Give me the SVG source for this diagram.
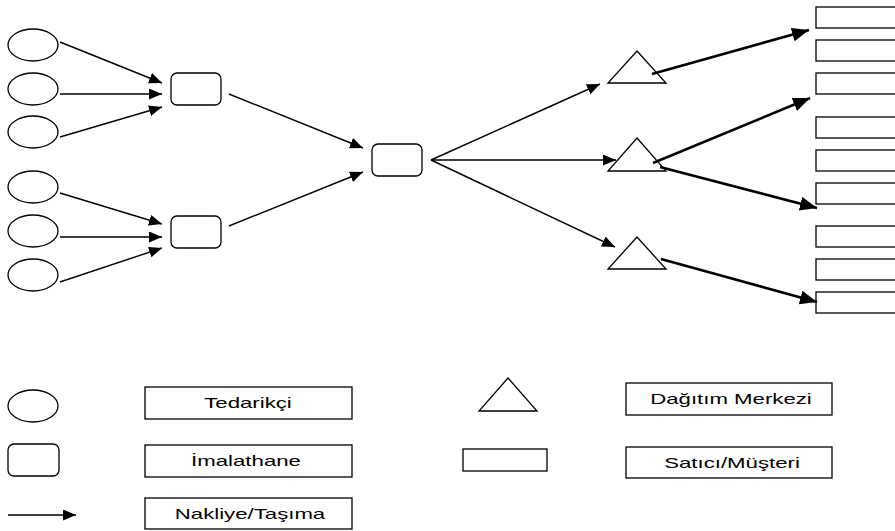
<svg xmlns="http://www.w3.org/2000/svg" width="895" height="531" viewBox="0 0 895 531">
  <style>
    .shape { fill: #fff; stroke: #000; stroke-width: 1.3; }
    .link { fill: none; stroke: #000; stroke-width: 1.4; }
    .link-bold { fill: none; stroke: #000; stroke-width: 2.6; }
    .label { font-family: "Liberation Sans", Arial, sans-serif; font-size: 15px; fill: #000; text-anchor: middle; }
  </style>
  <defs>
    <marker id="arrow" markerUnits="userSpaceOnUse" markerWidth="14" markerHeight="12" refX="13" refY="5.5" orient="auto">
      <path d="M0,0 L13,5.5 L0,11 Z" fill="#000"/>
    </marker>
    <marker id="arrow-bold" markerUnits="userSpaceOnUse" markerWidth="18" markerHeight="16" refX="17" refY="7" orient="auto">
      <path d="M0,0 L17,7 L0,14 Z" fill="#000"/>
    </marker>
  </defs>

  <!-- suppliers -->
  <g id="supplier-1"><ellipse class="shape" cx="33" cy="45" rx="25" ry="16"/></g>
  <g id="supplier-2"><ellipse class="shape" cx="33" cy="89" rx="25" ry="16"/></g>
  <g id="supplier-3"><ellipse class="shape" cx="33" cy="132" rx="25" ry="16"/></g>
  <g id="supplier-4"><ellipse class="shape" cx="33" cy="187" rx="25" ry="16"/></g>
  <g id="supplier-5"><ellipse class="shape" cx="33" cy="231" rx="25" ry="16"/></g>
  <g id="supplier-6"><ellipse class="shape" cx="33" cy="275" rx="25" ry="16"/></g>

  <!-- plants -->
  <g id="plant-1"><rect class="shape" x="171" y="73" width="50" height="32" rx="6"/></g>
  <g id="plant-2"><rect class="shape" x="171" y="216" width="50" height="32" rx="6"/></g>
  <g id="plant-main"><rect class="shape" x="372" y="144" width="50" height="32" rx="6"/></g>

  <!-- distribution centres -->
  <g id="dc-1"><polygon class="shape" points="637,51 666,83 608,83"/></g>
  <g id="dc-2"><polygon class="shape" points="637,138 666,171 608,171"/></g>
  <g id="dc-3"><polygon class="shape" points="637,237 666,269 608,269"/></g>

  <!-- retailers / customers -->
  <g id="customer-1"><rect class="shape" x="816" y="7" width="90" height="21"/></g>
  <g id="customer-2"><rect class="shape" x="816" y="40" width="90" height="21"/></g>
  <g id="customer-3"><rect class="shape" x="816" y="73" width="90" height="21"/></g>
  <g id="customer-4"><rect class="shape" x="816" y="117" width="90" height="21"/></g>
  <g id="customer-5"><rect class="shape" x="816" y="150" width="90" height="21"/></g>
  <g id="customer-6"><rect class="shape" x="816" y="183" width="90" height="21"/></g>
  <g id="customer-7"><rect class="shape" x="816" y="226" width="90" height="21"/></g>
  <g id="customer-8"><rect class="shape" x="816" y="259" width="90" height="21"/></g>
  <g id="customer-9"><rect class="shape" x="816" y="292" width="90" height="21"/></g>

  <!-- transport links -->
  <g id="connectors">
    <path class="link" d="M60,42 L162,83" marker-end="url(#arrow)"/>
    <path class="link" d="M60,94 L162,94" marker-end="url(#arrow)"/>
    <path class="link" d="M60,137 L162,107" marker-end="url(#arrow)"/>
    <path class="link" d="M60,193 L162,224" marker-end="url(#arrow)"/>
    <path class="link" d="M60,237 L162,237" marker-end="url(#arrow)"/>
    <path class="link" d="M60,282 L162,248" marker-end="url(#arrow)"/>

    <path class="link" d="M229,94 L363,148" marker-end="url(#arrow)"/>
    <path class="link" d="M229,226 L363,172" marker-end="url(#arrow)"/>

    <path class="link" d="M431,160 L600,84" marker-end="url(#arrow)"/>
    <path class="link" d="M431,160 L616,160" marker-end="url(#arrow)"/>
    <path class="link" d="M431,160 L615,247" marker-end="url(#arrow)"/>

    <path class="link-bold" d="M652,74 L809,30" marker-end="url(#arrow-bold)"/>
    <path class="link-bold" d="M653,163 L810,98" marker-end="url(#arrow-bold)"/>
    <path class="link-bold" d="M660,167 L817,208" marker-end="url(#arrow-bold)"/>
    <path class="link-bold" d="M661,259 L817,302" marker-end="url(#arrow-bold)"/>
  </g>

  <!-- legend -->
  <g id="legend-supplier">
    <ellipse class="shape" cx="33" cy="406" rx="25" ry="16"/>
    <rect class="shape" x="145" y="387" width="207" height="32"/>
    <text class="label" transform="translate(248,408) scale(1.48,1)">Tedarikçi</text>
  </g>
  <g id="legend-plant">
    <rect class="shape" x="8" y="444" width="51" height="32" rx="6"/>
    <rect class="shape" x="145" y="445" width="207" height="32"/>
    <text class="label" transform="translate(246,466) scale(1.48,1)">İmalathane</text>
  </g>
  <g id="legend-transport">
    <path class="link" d="M8,515 L76,515" marker-end="url(#arrow)"/>
    <rect class="shape" x="145" y="498" width="207" height="31"/>
    <text class="label" transform="translate(250,519) scale(1.48,1)">Nakliye/Taşıma</text>
  </g>
  <g id="legend-dc">
    <polygon class="shape" points="508,378 537,411 479,411"/>
    <rect class="shape" x="626" y="383" width="206" height="32"/>
    <text class="label" transform="translate(731,404) scale(1.48,1)">Dağıtım Merkezi</text>
  </g>
  <g id="legend-customer">
    <rect class="shape" x="463" y="449" width="84" height="22"/>
    <rect class="shape" x="626" y="447" width="206" height="31"/>
    <text class="label" transform="translate(732,468) scale(1.48,1)">Satıcı/Müşteri</text>
  </g>
</svg>
